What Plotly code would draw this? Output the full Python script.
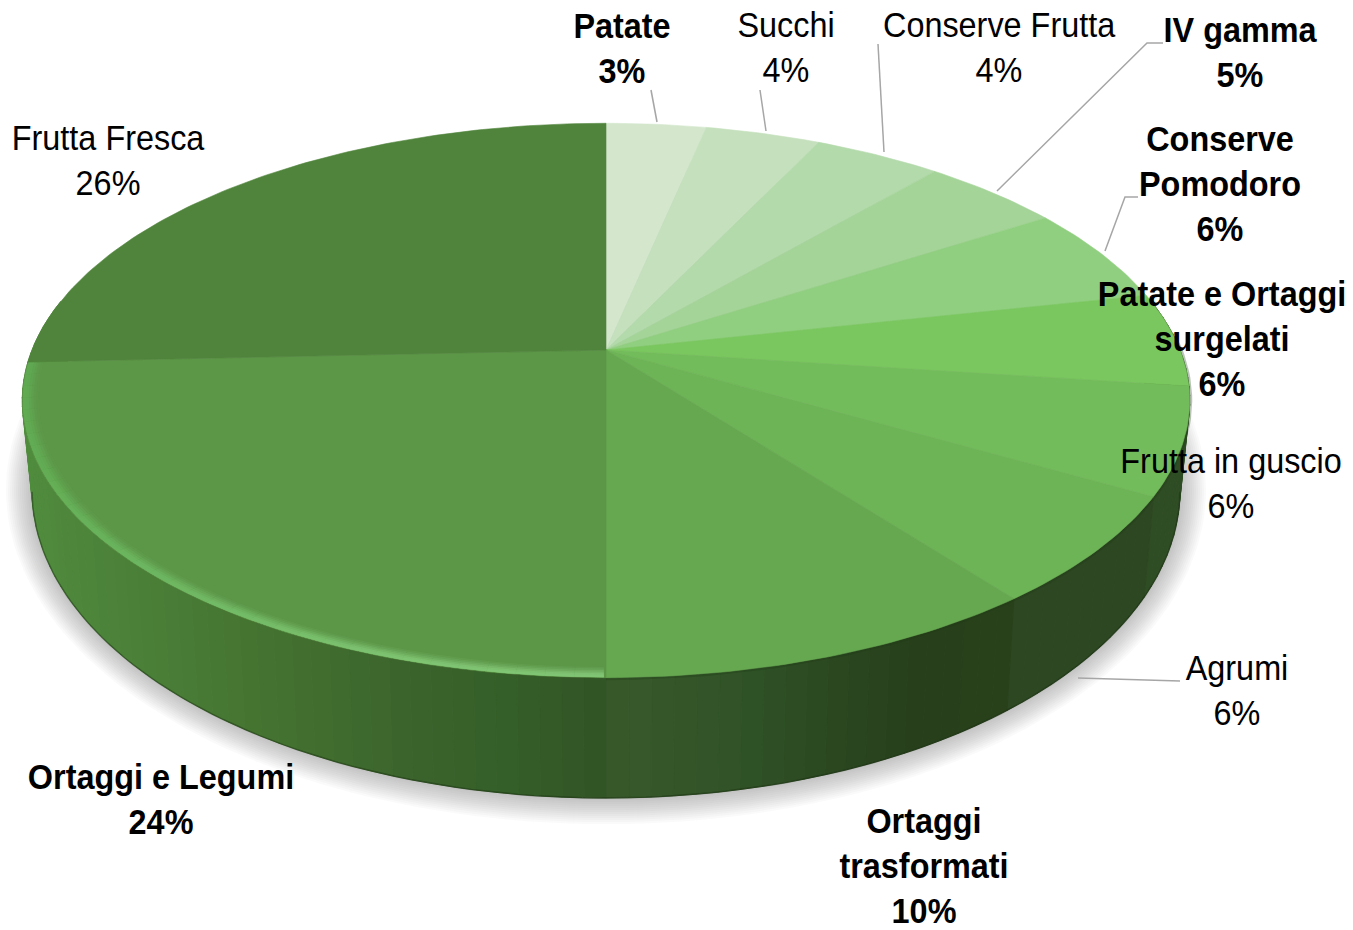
import math
import numpy as np
import plotly.graph_objects as go

# ---- data (clockwise from 12 o'clock) ----
categories = ["Patate", "Succhi", "Conserve Frutta", "IV gamma", "Conserve<br>Pomodoro",
              "Patate e Ortaggi<br>surgelati", "Frutta in guscio", "Agrumi",
              "Ortaggi<br>trasformati", "Ortaggi e Legumi", "Frutta Fresca"]
shares = [3.3, 3.8, 4.2, 4.6, 5.7, 5.5, 6.2, 6.3, 10.4, 24.3, 25.7]
bold = [True, False, False, True, True, True, False, False, True, True, False]
top_colors = ["#D4E7CD", "#C4E0BC", "#B3DAAB", "#A4D498", "#90CF80", "#7AC75F",
              "#73BC5B", "#6DB456", "#66A850", "#5C9647", "#50843C"]
# label centres: x, y of first line
label_x = [622, 786, 999, 1240, 1220, 1222, 1231, 1237, 924, 161, 108]
label_y = [25, 24, 24, 29, 138, 293, 460, 667, 820, 776, 137]
LINE_H = 45
FONT = "Liberation Sans, Arial, sans-serif"
FONT_SIZE = 36

# leader lines
leaders = [
    ([651, 657], [90, 122]),
    ([760, 766], [90, 131]),
    ([878, 884], [44, 152]),
    ([1163, 1147, 997], [43, 43, 191]),
    ([1138, 1125, 1105], [197, 197, 251]),
    ([1180, 1078], [681, 678]),
]

# geometry of the disc as drawn (perspective view)
P = 0.182
TOP = dict(cx=606, cy=350, A=574, B=268)
BOT = dict(cx=606, cy=434, A=564.4, B=297.8)


def proj(g, share, scale=1.0):
    t = np.asarray(share) / 100 * 2 * np.pi
    X, Y = scale * np.sin(t), scale * np.cos(t)
    w = 1 + P * Y
    return g["cx"] + g["A"] * X / w, g["cy"] - g["B"] * Y / w


def hex2rgb(h):
    return np.array([int(h[i:i + 2], 16) for i in (1, 3, 5)], float)


def lerp_rgb(x, stops):
    xs = [s[0] for s in stops]
    rgb = np.array([hex2rgb(s[1]) for s in stops])
    return tuple(int(np.interp(x, xs, rgb[:, i])) for i in range(3))


def lerp_color(x, stops):
    return "rgb(%d,%d,%d)" % lerp_rgb(x, stops)


left_stops = [(0, "#52903F"), (100, "#4D843B"), (250, "#467532"), (400, "#3C652D"), (500, "#366029"), (606, "#325426")]
side_stops = {
    10: left_stops,
    9: left_stops,
    8: [(606, "#385A2B"), (750, "#305227"), (850, "#2A4620"), (920, "#27401B"), (1010, "#29421C")],
    7: [(1000, "#2C4722"), (1140, "#2C4722")],
    6: [(1130, "#2F4D25"), (1200, "#2F4D25")],
    5: [(1130, "#2F4D25"), (1200, "#2F4D25")],
    4: [(1130, "#2F4D25"), (1200, "#2F4D25")],
}

fig = go.Figure()


def add(x, y, **kw):
    fig.add_trace(go.Scatter(x=x, y=y, hoverinfo="skip", showlegend=False, **kw))


# soft shadow
theta = np.linspace(0, 100, 241)
for k in range(26, 0, -2):
    sx, sy = proj(BOT, theta)
    ex = 606 + (sx - 606) * (574 + k) / 574
    ey = 490 + (sy - 490) * (308 + k) / 308
    add(list(ex), list(ey), mode="lines", fill="toself", fillcolor="rgba(90,90,90,0.03)", line=dict(width=0))

# side wall
edges = np.cumsum([0] + shares)
for i in range(len(shares)):
    lo, hi = edges[i], edges[i + 1]
    lo2, hi2 = max(lo, 22.0), min(hi, 78.0)
    if lo2 >= hi2:
        continue
    n = max(1, int((hi2 - lo2) / 0.5))
    cuts = np.linspace(lo2, hi2, n + 1)
    stops = side_stops[i]
    for a, b in zip(cuts[:-1], cuts[1:]):
        s = np.array([a, b])
        tx, ty = proj(TOP, s)
        bx, by = proj(BOT, s)
        col = lerp_color(0.5 * (tx.mean() + bx.mean()), stops)
        add([tx[0], tx[1], bx[1], bx[0], tx[0]], [ty[0], ty[1], by[1], by[0], ty[0]],
            mode="lines", fill="toself", fillcolor=col, line=dict(color=col, width=1))

# bottom edge darkening
ex, ey = proj(BOT, np.linspace(28, 72, 120))
add(list(ex), list(ey), mode="lines", line=dict(color="rgba(25,45,15,0.45)", width=1.5))

# soft dark blur on the rim, right side
ex, ey = proj(TOP, np.linspace(24, 50, 80))
add(list(ex), list(ey), mode="lines", line=dict(color="rgba(30,55,20,0.30)", width=5))

# top slices
for i in range(len(shares)):
    s = np.linspace(edges[i], edges[i + 1], max(4, int(shares[i] * 4)))
    x, y = proj(TOP, s)
    add([TOP["cx"]] + list(x) + [TOP["cx"]], [TOP["cy"]] + list(y) + [TOP["cy"]],
        mode="lines", fill="toself", fillcolor=top_colors[i], line=dict(color=top_colors[i], width=0.6))

# rim highlight on slice 10 (Ortaggi e Legumi): soft band just inside the rim
cuts = np.linspace(edges[9] + 0.05, edges[10] - 0.05, 37)
high_c = [(50, "#82C676"), (55, "#7FC472"), (62, "#6EB762"), (68, "#64AE56"), (74.3, "#60A953")]
for delta, alpha in [(0.026, 0.14), (0.022, 0.20), (0.018, 0.30), (0.014, 0.45), (0.010, 0.70), (0.006, 0.80)]:
    for a, b in zip(cuts[:-1], cuts[1:]):
        m = 0.5 * (a + b)
        r, g, bl = lerp_rgb(m, high_c)
        ss = np.linspace(a, b, 4)
        x1, y1 = proj(TOP, ss, 0.999)
        x2, y2 = proj(TOP, ss[::-1], 0.999 - delta)
        add(list(x1) + list(x2) + [x1[0]], list(y1) + list(y2) + [y1[0]], mode="lines", fill="toself",
            fillcolor=f"rgba({r},{g},{bl},{alpha})", line=dict(width=0))

# leader lines
for lx, ly in leaders:
    add(lx, ly, mode="lines", line=dict(color="#A6A6A6", width=1.5))

# labels
annotations = []
for name, v, b, x, y in zip(categories, shares, bold, label_x, label_y):
    lines = name.split("<br>") + [f"{round(v)}%"]
    for j, ln in enumerate(lines):
        annotations.append(dict(x=x, y=y + j * LINE_H, xref="x", yref="y", text=f"<b>{ln}</b>" if b else ln,
                                showarrow=False, xanchor="center", yanchor="middle",
                                font=dict(family=FONT, size=FONT_SIZE, color="#000000")))

fig.update_layout(
    width=1353, height=930, margin=dict(l=0, r=0, t=0, b=0),
    paper_bgcolor="white", plot_bgcolor="white", showlegend=False,
    xaxis=dict(range=[0, 1353], visible=False, fixedrange=True),
    yaxis=dict(range=[930, 0], visible=False, fixedrange=True),
    annotations=annotations,
)
# the reference's labels use a condensed face: narrow the real text about its own centre
squeeze = """
document.body.style.margin='0';document.documentElement.style.overflow='hidden';
function squeezeLabels(){document.querySelectorAll('text.annotation-text').forEach(function(t){
  t.style.transformBox='fill-box';t.style.transformOrigin='center';t.style.transform='scaleX(0.9)';});}
squeezeLabels();setTimeout(squeezeLabels,50);setTimeout(squeezeLabels,300);
var gd=document.getElementById('{plot_id}');if(gd&&gd.on){gd.on('plotly_afterplot',squeezeLabels);}
"""
fig.write_html("out.html", config={"displayModeBar": False}, post_script=squeeze)
